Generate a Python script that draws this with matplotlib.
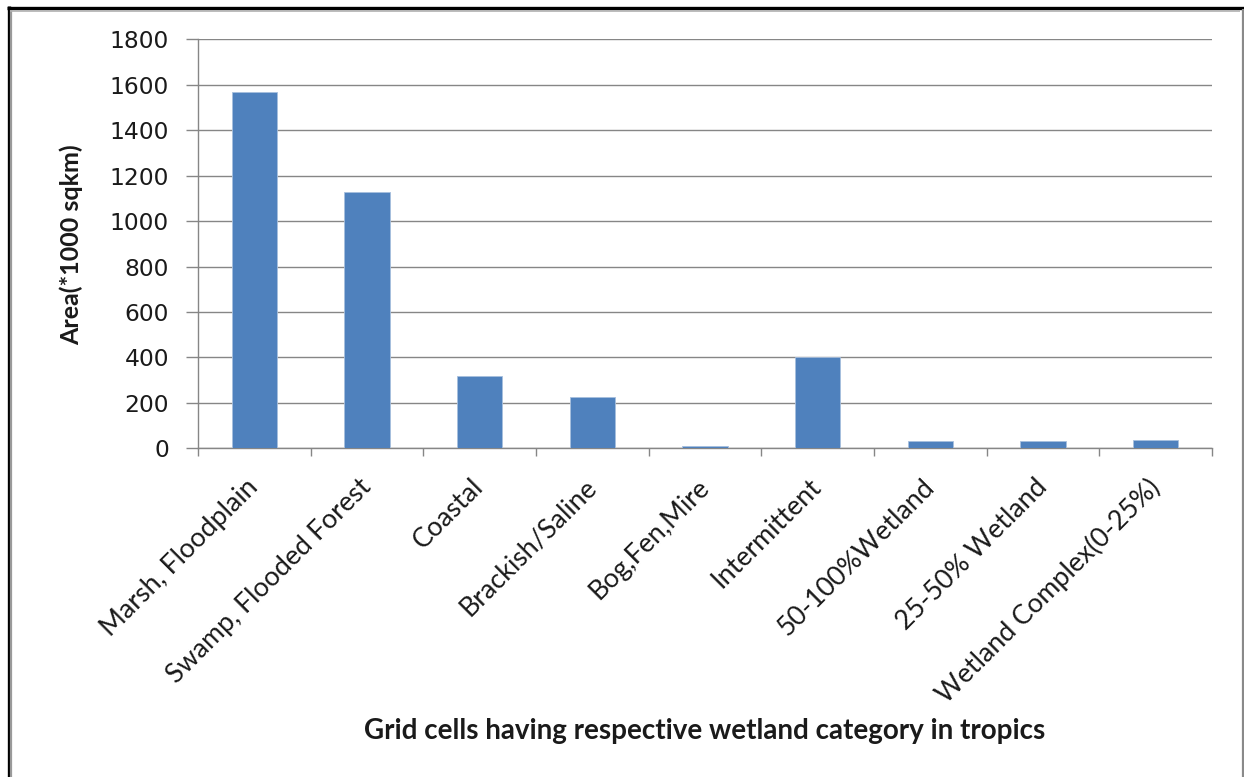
import matplotlib
matplotlib.use("Agg")
import matplotlib.pyplot as plt
from matplotlib.lines import Line2D
import numpy as np

categories = [
    "Marsh, Floodplain",
    "Swamp, Flooded Forest",
    "Coastal",
    "Brackish/Saline",
    "Bog,Fen,Mire",
    "Intermittent",
    "50-100%Wetland",
    "25-50% Wetland",
    "Wetland Complex(0-25%)",
]
area_values = [1570, 1130, 320, 225, 8, 402, 30, 30, 37]
y_ticks = [0, 200, 400, 600, 800, 1000, 1200, 1400, 1600, 1800]

x_title = "Grid cells having respective wetland category in tropics"
y_title = "Area(*1000 sqkm)"

BAR_COLOR = "#4F81BD"
AXIS_GRAY = "#868686"

W, H = 1244, 777
fig = plt.figure(figsize=(W / 100, H / 100), dpi=100)
fig.patch.set_facecolor("white")

ax = fig.add_axes([198 / W, 1 - 448.3 / H, (1212 - 198) / W, (448.3 - 39.3) / H])

x = np.arange(len(categories))
ax.bar(x, area_values, width=0.4, color=BAR_COLOR, edgecolor="#A7BFDE",
       linewidth=0.6, zorder=3)

ax.set_xlim(-0.5, len(categories) - 0.5)
ax.set_ylim(0, 1800)

# y axis
ax.set_yticks(y_ticks)
ax.set_yticklabels([str(v) for v in y_ticks], family="DejaVu Sans",
                   fontsize=16.8, color="#1a1a1a")
ax.tick_params(axis="y", which="major", length=9, width=1, color=AXIS_GRAY,
               direction="out", pad=12)
ax.yaxis.grid(True, color=AXIS_GRAY, linewidth=1.0, zorder=0)
ax.set_axisbelow(True)

# x axis: boundary ticks (major), centred category labels (minor)
ax.set_xticks(np.arange(len(categories) + 1) - 0.5)
ax.set_xticklabels([])
ax.tick_params(axis="x", which="major", length=6, width=1, color=AXIS_GRAY,
               direction="out")
ax.set_xticks(x, minor=True)
ax.set_xticklabels(categories, minor=True, rotation=45, ha="right",
                   va="center", rotation_mode="anchor",
                   family=["Lato", "DejaVu Sans"], fontsize=19.3,
                   color="#1a1a1a")
ax.tick_params(axis="x", which="minor", length=0, pad=25)

for side in ["top", "right"]:
    ax.spines[side].set_visible(False)
for side in ["left", "bottom"]:
    ax.spines[side].set_color(AXIS_GRAY)
    ax.spines[side].set_linewidth(1.0)

fig.text(71 / W, 1 - 245 / H, y_title, rotation=90, ha="center", va="center",
         family=["Lato", "DejaVu Sans"], fontweight="bold",
         fontsize=18, color="#1a1a1a")
fig.text(705 / W, 1 - 731 / H, x_title, ha="center", va="center",
         family=["Lato", "DejaVu Sans"], fontweight="bold", fontsize=20,
         color="#1a1a1a")

# frame around the figure
def fline(xs, ys, color, lw):
    fig.add_artist(Line2D([v / W for v in xs], [1 - v / H for v in ys],
                          color=color, linewidth=lw, transform=fig.transFigure,
                          solid_capstyle="butt"))

fline([8.5, 8.5], [6, 777], "black", 2.4)
fline([7, 1244], [7.5, 7.5], "black", 2.4)
fline([11, 11], [10, 777], "#9a9a9a", 1.6)
fline([10, 1240], [10.5, 10.5], "#b0b0b0", 1.2)
fline([1242.5, 1242.5], [9, 777], "#8a8a8a", 1.6)

fig.savefig("out.png", dpi=100, facecolor="white")
